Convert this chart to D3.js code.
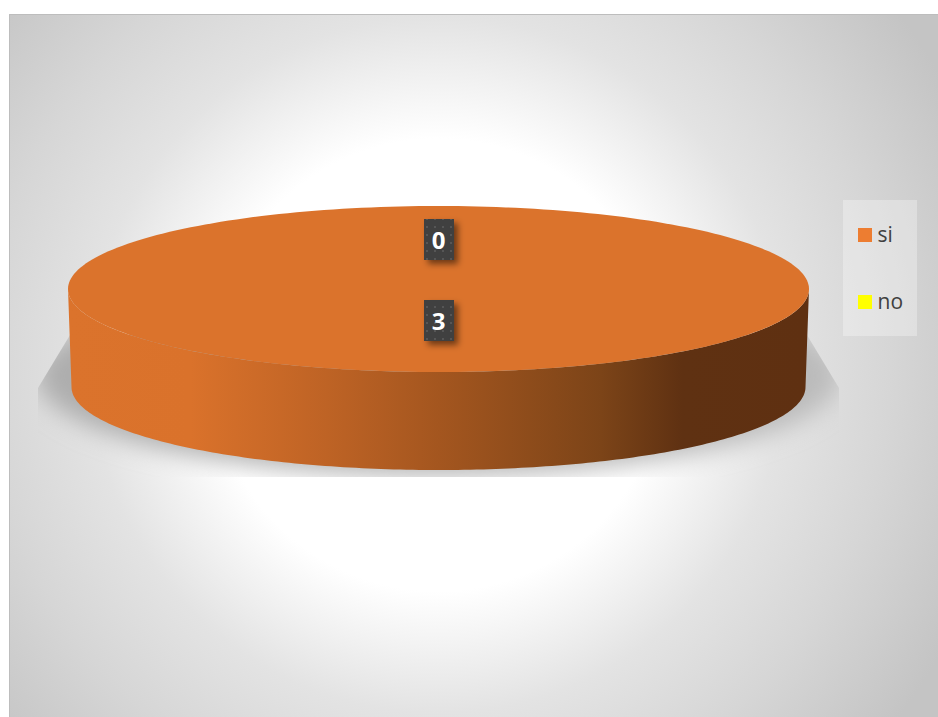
<!DOCTYPE html>
<html><head><meta charset="utf-8">
<script src="https://cdn.jsdelivr.net/npm/d3@7"></script>
<style>html,body{margin:0;padding:0;background:#fff;overflow:hidden}svg{display:block}</style>
</head><body><div id="c"></div>
<script>
const categories = ["si", "no"];
const values = [3, 0];
const colors = ["#ed7d31", "#ffff00"];
const W = 938, H = 717;
const svg = d3.select("#c").append("svg").attr("width", W).attr("height", H);
const defs = svg.append("defs");

function grad(id, stops, kind, attrs) {
  const g = defs.append(kind).attr("id", id);
  Object.entries(attrs).forEach(([k, v]) => g.attr(k, v));
  stops.forEach(s => g.append("stop").attr("offset", s[0]).attr("stop-color", s[1]).attr("stop-opacity", s[2] ?? 1));
}
grad("bg", [[0, "#ffffff"], [0.39, "#ffffff"], [0.6, "#e3e3e3"], [0.78, "#d6d6d6"], [1, "#c4c4c4"]], "radialGradient",
  {gradientUnits: "userSpaceOnUse", cx: 438, cy: 365, r: 580});
grad("side", [[0, "#db732c"], [0.165, "#da722b"], [0.35, "#be6325"], [0.5, "#a4561f"], [0.72, "#7c4418"], [0.83, "#5f3112"], [1, "#5f3011"]], "linearGradient",
  {gradientUnits: "userSpaceOnUse", x1: 68, x2: 808, y1: 0, y2: 0});
grad("shFill", [[0, "#adadad"], [1, "#bcbcbc"]], "linearGradient",
  {gradientUnits: "userSpaceOnUse", x1: 38, x2: 838, y1: 0, y2: 0});
defs.append("filter").attr("id", "blur").attr("x", "-10%").attr("y", "-20%").attr("width", "120%").attr("height", "140%")
  .append("feGaussianBlur").attr("stdDeviation", 12);
const ds = defs.append("filter").attr("id", "ds").attr("x", "-30%").attr("y", "-30%").attr("width", "170%").attr("height", "170%");
ds.append("feDropShadow").attr("dx", 4).attr("dy", 4).attr("stdDeviation", 3).attr("flood-color", "#000").attr("flood-opacity", 0.5);
const pat = defs.append("pattern").attr("id", "dots").attr("width", 8).attr("height", 8).attr("patternUnits", "userSpaceOnUse");
pat.append("rect").attr("width", 8).attr("height", 8).attr("fill", "#404040");
pat.append("rect").attr("x", 2).attr("y", 2).attr("width", 2).attr("height", 2).attr("fill", "#565656");

// chart area
svg.append("rect").attr("x", 9).attr("y", 14).attr("width", W - 9).attr("height", H - 14).attr("fill", "url(#bg)");
svg.append("path").attr("d", `M9.5,${H}V14.5H${W}`).attr("fill", "none").attr("stroke", "#bdbdbd");

// pie geometry
const cx = 438.5, cyTop = 289, rx = 370.5, ry = 83, depth = 98, taper = 3.5;
const pie = d3.pie().sort(null).value(d => d)(values);
const sx = d3.scaleLinear().domain([-1, 1]).range([cx - rx, cx + rx]);
const sy = d3.scaleLinear().domain([-1, 1]).range([cyTop - ry, cyTop + ry]);
const sxB = d3.scaleLinear().domain([-1, 1]).range([cx - rx + taper, cx + rx - taper]);
const syB = d3.scaleLinear().domain([-1, 1]).range([cyTop + depth - ry, cyTop + depth + ry]);

const lens = d3.range(0, 1.0001, 1 / 180).map(t => t * Math.PI);
const frontTop = lens.map(a => [sx(Math.cos(a)), sy(Math.sin(a))]);
const frontBot = lens.map(a => [sxB(Math.cos(a)), syB(Math.sin(a))]);
const line = d3.line();

// floor shadow: soft ellipse seen through a trapezoid window
const clipPts = [[sx(-1) + 2, 335], [38, 388], [38, 477], [839, 477], [839, 388], [sx(1) - 2, 335]];
defs.append("clipPath").attr("id", "shClip").append("path").attr("d", line(clipPts) + "Z");
const shadow = svg.append("g").attr("clip-path", "url(#shClip)");
shadow.append("ellipse").attr("cx", cx).attr("cy", 376).attr("rx", 402).attr("ry", 100)
  .attr("fill", "url(#shFill)").attr("filter", "url(#blur)");

// slices
const sideData = frontTop.concat(frontBot.slice().reverse());
svg.append("path").attr("d", line(sideData) + "Z").attr("fill", "url(#side)");
const tops = svg.append("g");
pie.forEach((p, i) => {
  if (p.endAngle === p.startAngle) return;
  const n = 240, A = d3.scaleLinear().domain([0, n]).range([p.startAngle, p.endAngle]);
  const pts = d3.range(n + 1).map(k => {
    const a = A(k) - Math.PI / 2;
    return [sx(Math.cos(a)), sy(Math.sin(a))];
  });
  tops.append("path").attr("d", line(pts) + "Z").attr("fill", i === 0 ? "#db732c" : colors[i]);
});

// data labels
const lw = 30, lh = 41;
const labelFrac = [0.38, 0.596];
const labels = svg.append("g");
pie.forEach((p, i) => {
  const mid = (p.startAngle + p.endAngle) / 2 - Math.PI / 2;
  const x = sx(Math.cos(mid) * labelFrac[i]), y = sy(Math.sin(mid) * labelFrac[i]);
  labels.append("rect").attr("x", Math.round(x - lw / 2 + 0.2)).attr("y", Math.round(y - lh / 2)).attr("width", lw).attr("height", lh)
    .attr("fill", "url(#dots)").attr("filter", "url(#ds)");
  labels.append("text").attr("x", x).attr("y", y + 9.5).attr("text-anchor", "middle")
    .attr("font-family", "'Open Sans','Noto Sans',sans-serif").attr("font-weight", 700).attr("font-size", 24)
    .attr("fill", "#fff").text(values[i]);
});

// legend
const legend = svg.append("g");
legend.append("rect").attr("x", 843).attr("y", 200).attr("width", 74).attr("height", 136).attr("fill", "#fff").attr("fill-opacity", 0.3);
const ly = d3.scalePoint().domain(categories).range([235, 302]);
categories.forEach((c, i) => {
  legend.append("rect").attr("x", 858).attr("y", ly(c) - 7).attr("width", 14).attr("height", 14).attr("fill", colors[i]);
  legend.append("text").attr("x", 877.5).attr("y", ly(c) + 6.5).attr("font-family", "'Open Sans','Noto Sans',sans-serif")
    .attr("font-size", 21).attr("fill", "#404040").text(c);
});
</script></body></html>
